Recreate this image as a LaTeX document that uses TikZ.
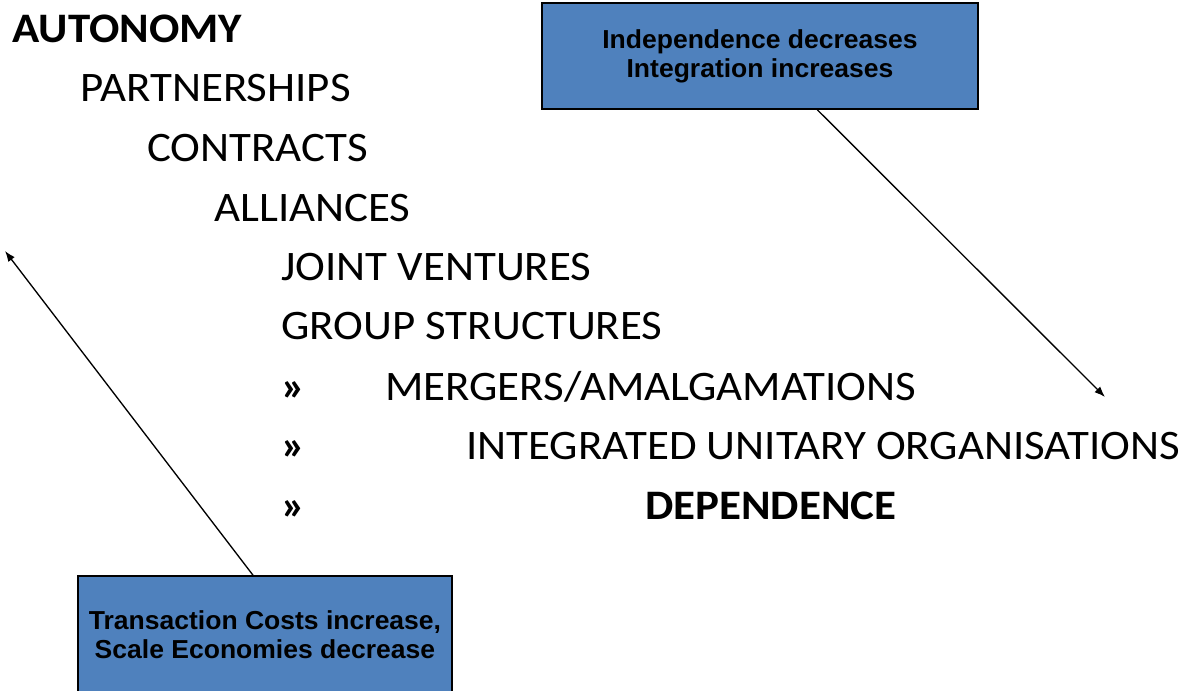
\documentclass[tikz,border=0pt]{standalone}
\usepackage{fontspec}
\setmainfont{Carlito}[FakeStretch=1.07]
\newfontfamily\boxfont{Liberation Sans}[FakeStretch=1.02]
\usepackage{tikz}
\usetikzlibrary{arrows.meta}

\definecolor{boxblue}{RGB}{79,129,189}

\tikzset{
  level/.style={anchor=base west, inner sep=0pt, font=\fontsize{31.5}{38}\selectfont},
  bluebox/.style={draw=black, line width=1.2pt, fill=boxblue, inner sep=0pt, align=center,
    font=\boxfont\bfseries\fontsize{19.5}{21.75}\selectfont},
  trend/.style={line width=1pt, -{Latex[length=8pt,width=6pt]}}
}

\begin{document}
\begin{tikzpicture}[x=0.75pt, y=-0.75pt]
\useasboundingbox (0,0) rectangle (1181,691);
%
\node[level, font=\fontsize{31.5}{38}\selectfont\bfseries] (auto) at (12,43) {AUTONOMY};
\node[level] (part) at (80,102) {PARTNERSHIPS};
\node[level] (contr) at (147,162) {CONTRACTS};
\node[level] (alli) at (214,222) {ALLIANCES};
\node[level] (joint) at (281,281) {JOINT VENTURES};
\node[level] (group) at (281,340) {GROUP STRUCTURES};
%
\node[level, font=\fontsize{31.5}{38}\selectfont\bfseries] (ra) at (281,400) {»};
\node[level, font=\fontsize{31.5}{38}\selectfont\bfseries] (rb) at (281,459) {»};
\node[level, font=\fontsize{31.5}{38}\selectfont\bfseries] (rc) at (281,519) {»};
\node[level] (merg) at (385,400) {MERGERS/AMALGAMATIONS};
\node[level] (integ) at (466,459) {INTEGRATED UNITARY ORGANISATIONS};
\node[level, font=\fontsize{31.5}{38}\selectfont\bfseries] (dep) at (645,519) {DEPENDENCE};
%
\node[bluebox, minimum width=327pt, minimum height=79.5pt] (indep) at (760,56)
  {Independence decreases\\Integration increases};
\node[bluebox, minimum width=280.5pt, minimum height=87.75pt] (trans) at (265,634.5)
  {Transaction Costs increase,\\Scale Economies decrease};
%
\coordinate (topleft) at (5,251);
\coordinate (botright) at (1105,397);
\draw[trend] ([xshift=-9]trans.north) -- (topleft);
\draw[trend] ([xshift=43]indep.south) -- (botright);
\end{tikzpicture}
\end{document}
